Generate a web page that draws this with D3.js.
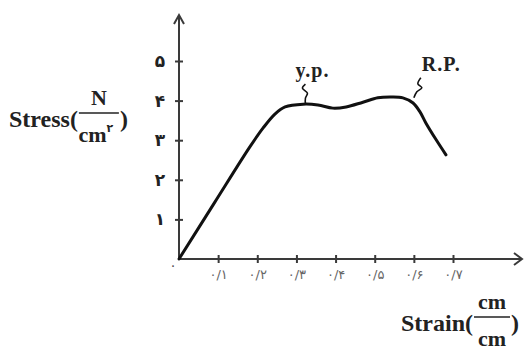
<!DOCTYPE html>
<html>
<head>
<meta charset="utf-8">
<script src="https://cdn.jsdelivr.net/npm/d3@7"></script>
<style>
  body { margin: 0; background: #fff; }
  svg { display: block; }
</style>
</head>
<body>
<svg id="chart" width="526" height="351"></svg>
<script>
// strain (cm/cm) and stress (N/cm2)
const strain = [0, 0.09, 0.181, 0.215, 0.245, 0.271, 0.317, 0.355, 0.393, 0.427, 0.470, 0.508, 0.539, 0.572, 0.598, 0.616, 0.631, 0.657, 0.682];
const stress = [0, 1.41, 2.83, 3.31, 3.66, 3.84, 3.91, 3.89, 3.81, 3.84, 3.96, 4.07, 4.09, 4.07, 3.94, 3.71, 3.43, 3.01, 2.63];

const xTicks = [0.1, 0.2, 0.3, 0.4, 0.5, 0.6, 0.7];
const xTickLabels = ["۰/۱", "۰/۲", "۰/۳", "۰/۴", "۰/۵", "۰/۶", "۰/۷"];
const yTicks = [1, 2, 3, 4, 5];
const yTickLabels = ["۱", "۲", "۳", "۴", "۵"];

// annotated points: yield point and rupture point
const notes = [
  { label: "y.p.", x: 0.323, y: 3.91, dx: -10, squig: [[0,0],[0,-6],[2,-11],[-3,-16],[0,-20]] },
  { label: "R.P.", x: 0.600, y: 4.07, dx: 8, squig: [[0,0],[3,-6],[8,-10],[4,-14],[7,-20]] }
];

const svg = d3.select("#chart");
const x = d3.scaleLinear().domain([0, 0.7]).range([179, 453]);
const y = d3.scaleLinear().domain([0, 5]).range([259, 61]);

const axisColor = "#3a3a3a";
const serif = "'Liberation Serif', 'Times New Roman', serif";
const digits = "'DejaVu Sans', sans-serif";

// x axis line + arrow
svg.append("line")
  .attr("x1", x(0)).attr("x2", 522)
  .attr("y1", y(0)).attr("y2", y(0))
  .attr("stroke", axisColor).attr("stroke-width", 2);
svg.append("path")
  .attr("d", `M514,${y(0) - 6} L522,${y(0)} L514,${y(0) + 6}`)
  .attr("fill", "none").attr("stroke", axisColor).attr("stroke-width", 2);

// y axis line + arrow
svg.append("line")
  .attr("x1", x(0)).attr("x2", x(0))
  .attr("y1", y(0)).attr("y2", 15)
  .attr("stroke", axisColor).attr("stroke-width", 2);
svg.append("path")
  .attr("d", `M${x(0) - 5},24 L${x(0)},15 L${x(0) + 5},24`)
  .attr("fill", "none").attr("stroke", axisColor).attr("stroke-width", 2);

// x ticks
const gx = svg.append("g")
  .attr("transform", `translate(0,${y(0)})`)
  .call(d3.axisBottom(x).tickValues(xTicks).tickSize(0).tickFormat((d, i) => xTickLabels[i]));
gx.select(".domain").remove();
gx.selectAll(".tick").append("line")
  .attr("y1", -4).attr("y2", 4)
  .attr("stroke", axisColor).attr("stroke-width", 2);
gx.selectAll(".tick text")
  .attr("y", 11).attr("dy", "0.71em")
  .attr("fill", "#666")
  .style("font-family", digits).style("font-size", "13px");

// y ticks
const gy = svg.append("g")
  .attr("transform", `translate(${x(0)},0)`)
  .call(d3.axisLeft(y).tickValues(yTicks).tickSize(0).tickFormat((d, i) => yTickLabels[i]));
gy.select(".domain").remove();
gy.selectAll(".tick").append("line")
  .attr("x1", -4).attr("x2", 4)
  .attr("stroke", axisColor).attr("stroke-width", 2);
gy.selectAll(".tick text")
  .attr("x", -19).attr("text-anchor", "middle")
  .attr("fill", "#222")
  .style("font-family", digits).style("font-size", "17px").style("font-weight", "bold");

// origin label
svg.append("text")
  .attr("x", x(0) - 6).attr("y", y(0) + 11)
  .attr("text-anchor", "middle")
  .attr("fill", "#555")
  .style("font-family", digits).style("font-size", "14px")
  .text("۰");

// stress-strain curve
const pts = strain.map((s, i) => [x(s), y(stress[i])]);
svg.append("path")
  .attr("d", d3.line().curve(d3.curveCatmullRom.alpha(0.5))(pts))
  .attr("fill", "none").attr("stroke", "#111")
  .attr("stroke-width", 3).attr("stroke-linecap", "round");

// annotations
notes.forEach(n => {
  const ax = x(n.x), ay = y(n.y);
  svg.append("path")
    .attr("d", d3.line().curve(d3.curveCatmullRom)(n.squig.map(p => [ax + p[0], ay + p[1]])))
    .attr("fill", "none").attr("stroke", "#111").attr("stroke-width", 1.6);
  svg.append("text")
    .attr("x", ax + n.dx).attr("y", ay - 27)
    .style("font-family", serif).style("font-size", "20px").style("font-weight", "bold")
    .style("letter-spacing", "1px")
    .attr("fill", "#222")
    .text(n.label);
});

// axis titles with fractions
function title(px, py, word, num, den, sup, fw) {
  const g = svg.append("g").attr("fill", "#222")
    .style("font-family", serif).style("font-weight", "bold");
  const t = g.append("text").attr("x", px).attr("y", py)
    .style("font-size", "24px").text(word + "(");
  const w = t.node().getComputedTextLength();
  const fx = px + w + 1;
  const ly = py - 14;
  g.append("line")
    .attr("x1", fx).attr("x2", fx + fw)
    .attr("y1", ly).attr("y2", ly)
    .attr("stroke", "#222").attr("stroke-width", 1.5);
  g.append("text").attr("x", fx + fw / 2).attr("y", ly - 8)
    .attr("text-anchor", "middle").style("font-size", "22px").text(num);
  const d = g.append("text").attr("x", fx + fw / 2 - (sup ? 3 : 0)).attr("y", ly + 29)
    .attr("text-anchor", "middle").style("font-size", "22px").text(den);
  if (sup) d.append("tspan").attr("dy", -10).style("font-size", "11px")
    .style("font-family", digits).text(sup);
  g.append("text").attr("x", fx + fw + 1).attr("y", py)
    .style("font-size", "24px").text(")");
}
title(9, 127, "Stress", "N", "cm", "۲", 40);
title(401, 331, "Strain", "cm", "cm", null, 36);
</script>
</body>
</html>
